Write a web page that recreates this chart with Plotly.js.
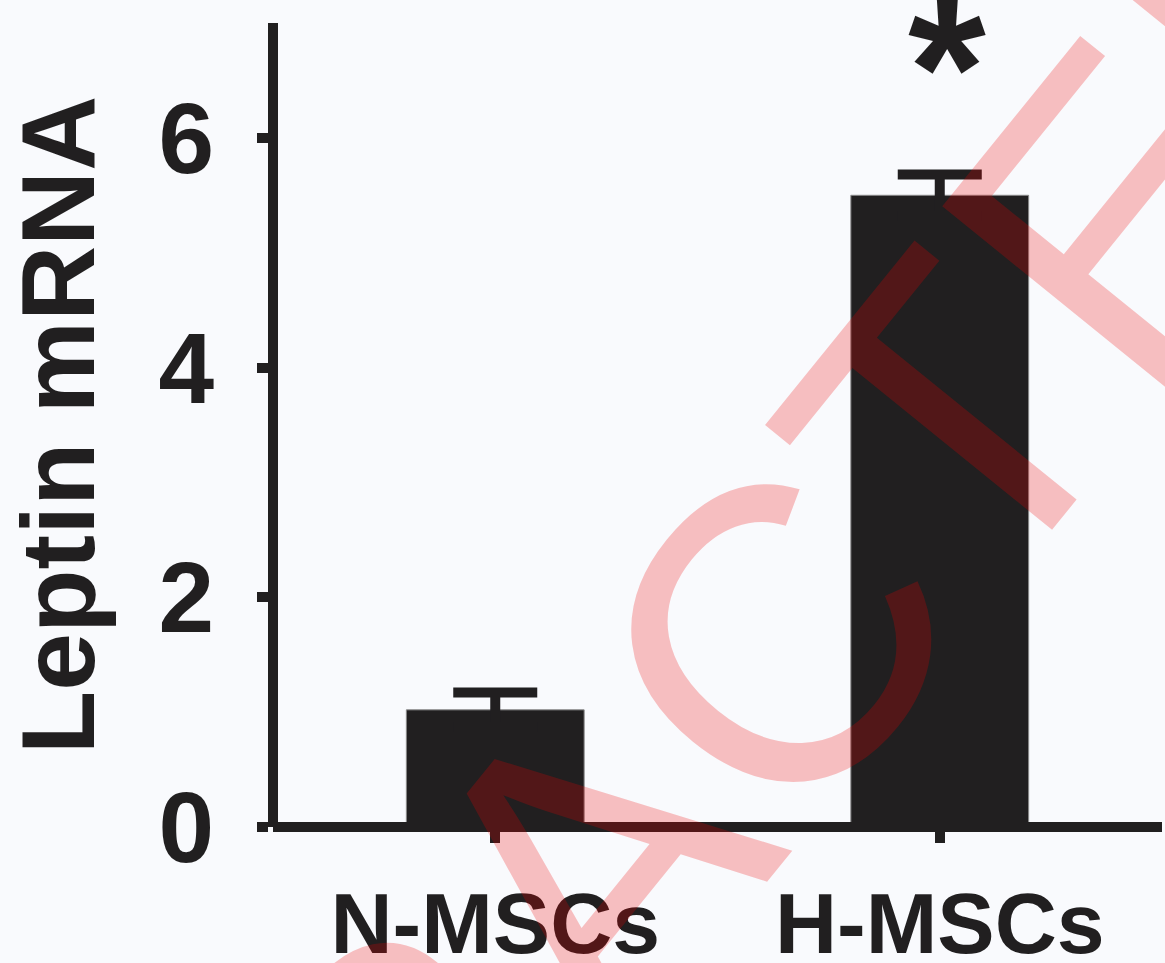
<!DOCTYPE html>
<html>
<head>
<meta charset="utf-8">
<script src="https://cdn.plot.ly/plotly-3.0.1.min.js"></script>
<style>
  html, body { margin: 0; padding: 0; background: #f9fafd; }
  #chart { width: 1165px; height: 963px; }
</style>
</head>
<body>
<div id="chart"></div>
<script>
// ---- data ----
const categories = ['N-MSCs', 'H-MSCs'];
const leptinMean = [1.02, 5.50];
const leptinError = [0.15, 0.18];
const yTickVals = [0, 2, 4, 6];
const yTickText = ['0', '2', '4', '6'];
const significanceMarks = ['', '*'];
const significanceY = [null, 6.61];
const yAxisTitle = 'Leptin mRNA';
const watermarkText = 'RETRACTED';

const barColor = '#211f20';
const bg = '#f9fafd';
const font = 'Liberation Sans, Arial, Helvetica, sans-serif';

const traces = [{
  type: 'bar',
  x: categories,
  y: leptinMean,
  width: 0.4,
  marker: { color: barColor, line: { color: '#8a8a8a', width: 1 } },
  error_y: {
    type: 'data',
    symmetric: true,
    array: leptinError,
    color: barColor,
    thickness: 10,
    width: 42
  },
  hoverinfo: 'skip'
}];

const annotations = [];
categories.forEach((c, i) => {
  if (significanceMarks[i]) {
    annotations.push({
      x: c, y: significanceY[i], xref: 'x', yref: 'y',
      text: significanceMarks[i], showarrow: false,
      xanchor: 'center', yanchor: 'middle', xshift: 7,
      font: { family: font, size: 200, color: barColor, weight: 'bold' }
    });
  }
});
annotations.push({
  xref: 'paper', yref: 'paper', x: 0.358, y: -0.05,
  text: watermarkText, showarrow: false, textangle: -51,
  xanchor: 'center', yanchor: 'middle',
  font: { family: font, size: 420, color: 'rgba(240,0,0,0.24)' }
});

const layout = {
  width: 1165, height: 963,
  paper_bgcolor: bg, plot_bgcolor: bg,
  margin: { l: 272.5, r: 3, t: 23, b: 136 },
  showlegend: false,
  xaxis: {
    type: 'category',
    range: [-0.5, 1.5],
    anchor: 'free', position: 0,
    showline: true, linecolor: barColor, linewidth: 10,
    ticks: 'outside', ticklen: 11, tickwidth: 10, tickcolor: barColor,
    showgrid: false, zeroline: false,
    tickfont: { family: font, size: 86, color: barColor, weight: 'bold' },
    ticklabelstandoff: 7
  },
  yaxis: {
    range: [0, 7],
    anchor: 'free', position: 0,
    showline: true, linecolor: barColor, linewidth: 10,
    ticks: 'outside', ticklen: 11, tickwidth: 10, tickcolor: barColor,
    tickvals: yTickVals, ticktext: yTickText,
    showgrid: false, zeroline: false,
    tickfont: { family: font, size: 100, color: barColor, weight: 'bold' },
    ticklabelstandoff: 23,
    title: { text: yAxisTitle, font: { family: font, size: 104, color: barColor, weight: 'bold' }, standoff: 44 }
  },
  annotations: annotations
};

Plotly.newPlot('chart', traces, layout, { displayModeBar: false, staticPlot: true });
</script>
</body>
</html>
